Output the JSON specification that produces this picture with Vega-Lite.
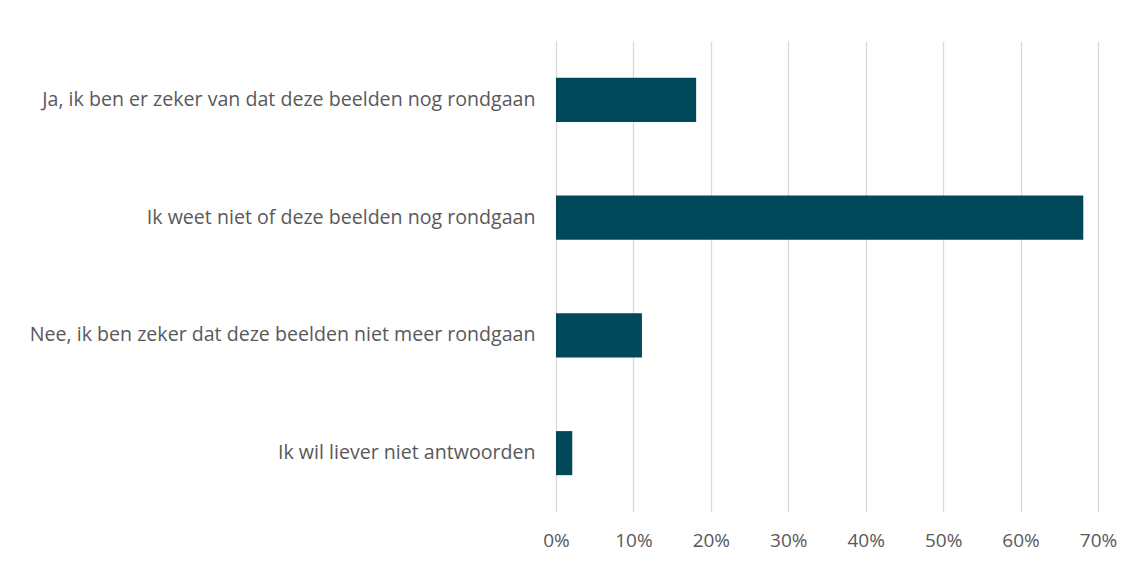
{
  "$schema": "https://vega.github.io/schema/vega-lite/v6.json",
  "width": 542,
  "height": 471,
  "autosize": {"type": "none"},
  "padding": {"left": 556, "top": 41, "right": 33, "bottom": 50},
  "background": "white",
  "config": {"view": {"stroke": null}, "font": "Open Sans"},
  "data": {
    "values": [
      {"antwoord": "Ja, ik ben er zeker van dat deze beelden nog rondgaan", "aandeel": 0.181},
      {"antwoord": "Ik weet niet of deze beelden nog rondgaan", "aandeel": 0.681},
      {"antwoord": "Nee, ik ben zeker dat deze beelden niet meer rondgaan", "aandeel": 0.111},
      {"antwoord": "Ik wil liever niet antwoorden", "aandeel": 0.021}
    ]
  },
  "mark": {"type": "bar", "color": "#00485A"},
  "encoding": {
    "y": {
      "field": "antwoord",
      "type": "nominal",
      "sort": null,
      "scale": {"paddingInner": 0.626, "paddingOuter": 0.313},
      "axis": {
        "title": null,
        "domain": false,
        "ticks": false,
        "labelFontSize": 19.6,
        "labelColor": "#595959",
        "labelPadding": 21,
        "labelLimit": 600
      }
    },
    "x": {
      "field": "aandeel",
      "type": "quantitative",
      "scale": {"domain": [0, 0.7], "nice": false},
      "axis": {
        "title": null,
        "format": ".0%",
        "values": [0, 0.1, 0.2, 0.3, 0.4, 0.5, 0.6, 0.7],
        "domain": false,
        "ticks": false,
        "grid": true,
        "gridColor": "#D9D9D9",
        "gridWidth": 1.3,
        "labelFontSize": 19,
        "labelColor": "#595959",
        "labelPadding": 19,
        "labelFlush": false
      }
    }
  }
}
